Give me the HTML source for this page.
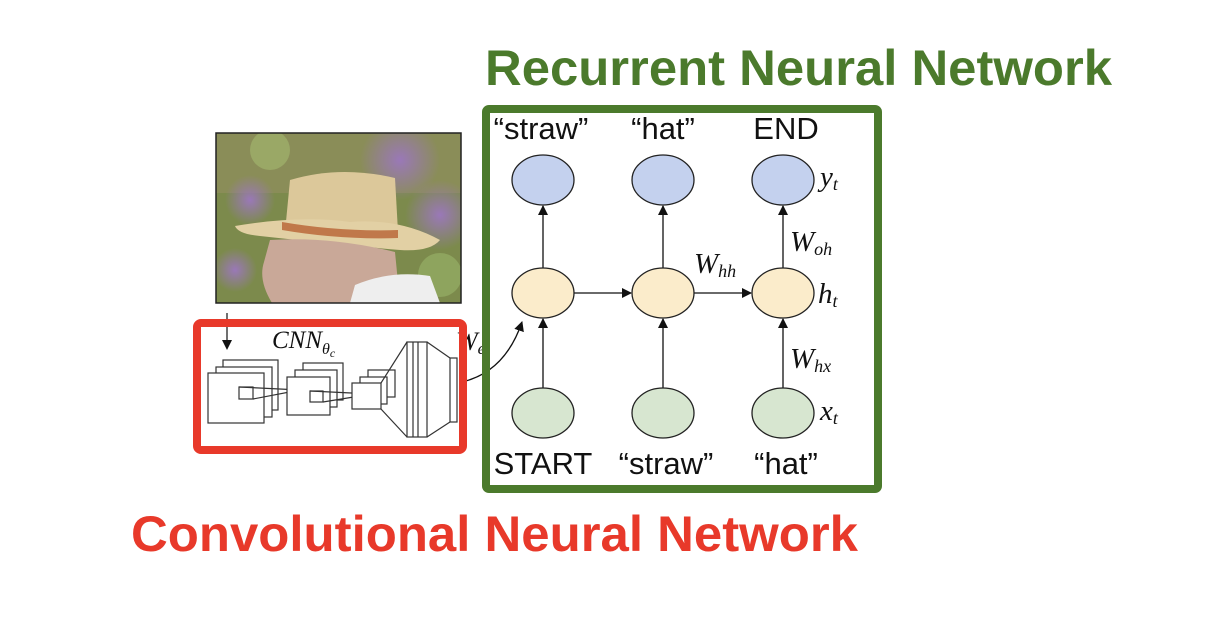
<!DOCTYPE html>
<html><head><meta charset="utf-8"><style>
html,body{margin:0;padding:0;background:#fff;width:1224px;height:617px;overflow:hidden}
svg{display:block}
.t{font-family:"Liberation Sans",Arial,sans-serif}
.m{font-family:"Liberation Serif",serif;font-style:italic}
</style></head><body>
<svg width="1224" height="617" viewBox="0 0 1224 617" xmlns="http://www.w3.org/2000/svg">
<defs>
<marker id="ah" markerWidth="10" markerHeight="10" refX="9" refY="5" orient="auto" markerUnits="userSpaceOnUse"><path d="M0,0 L10,5 L0,10 z" fill="#111"/></marker>
<clipPath id="pc"><rect x="216" y="133" width="245" height="170"/></clipPath>
<radialGradient id="hz" cx="0.5" cy="0.5" r="0.5"><stop offset="0" stop-color="#9a78b8"/><stop offset="1" stop-color="#9a78b8" stop-opacity="0"/></radialGradient>
</defs>
<text class="t" x="485" y="85" font-size="50" font-weight="bold" fill="#4b7a2c" textLength="627" lengthAdjust="spacingAndGlyphs">Recurrent Neural Network</text>
<text class="t" x="131" y="551" font-size="50" font-weight="bold" fill="#e8392a" textLength="727" lengthAdjust="spacingAndGlyphs">Convolutional Neural Network</text>

<!-- photo -->
<g clip-path="url(#pc)">
<rect x="216" y="133" width="245" height="170" fill="#7c8a4c"/>
<rect x="216" y="133" width="245" height="60" fill="#8a8d58"/>
<circle cx="400" cy="160" r="40" fill="url(#hz)"/>
<circle cx="440" cy="215" r="35" fill="url(#hz)"/>
<circle cx="250" cy="200" r="25" fill="url(#hz)"/>
<circle cx="235" cy="270" r="22" fill="url(#hz)"/>
<circle cx="440" cy="275" r="22" fill="#8ea45e"/>
<circle cx="270" cy="150" r="20" fill="#9aa866"/>
<path d="M285,232 L290,180 Q340,165 395,178 L398,232 Z" fill="#dcc89a"/>
<path d="M235,226 Q300,215 350,222 Q400,218 440,240 Q430,252 400,250 Q330,244 260,236 Q238,234 235,226 Z" fill="#e2d0a4"/>
<path d="M282,222 Q340,232 398,230 L398,238 Q340,240 282,230 Z" fill="#c0784a"/>
<path d="M270,240 Q330,236 395,252 L400,303 L272,303 Q258,280 264,262 Z" fill="#c9a898"/>
<path d="M355,285 Q390,270 430,276 L440,303 L350,303 Z" fill="#eeeeee"/>
</g>
<rect x="216" y="133" width="245" height="170" fill="none" stroke="#222" stroke-width="1.5"/>

<!-- CNN drawing -->
<g fill="#fff" stroke="#333" stroke-width="1.2">
<line x1="227" y1="313" x2="227" y2="342" stroke="#111"/>
<path d="M222,340 L232,340 L227,350 Z" fill="#111" stroke="none"/>
<rect x="223" y="360" width="55" height="50"/>
<rect x="216" y="367" width="56" height="50"/>
<rect x="208" y="373" width="56" height="50"/>
<rect x="239" y="387" width="14" height="12"/>
<line x1="239" y1="387" x2="300" y2="390"/><line x1="253" y1="399" x2="300" y2="390"/>
<rect x="303" y="363" width="40" height="37"/>
<rect x="295" y="370" width="42" height="37"/>
<rect x="287" y="377" width="43" height="38"/>
<rect x="310" y="391" width="13" height="11"/>
<line x1="310" y1="391" x2="372" y2="394"/><line x1="323" y1="402" x2="372" y2="394"/>
<rect x="368" y="370" width="27" height="27"/>
<rect x="360" y="377" width="27" height="27"/>
<rect x="352" y="383" width="29" height="26"/>
<line x1="381" y1="383" x2="407" y2="342"/><line x1="381" y1="409" x2="407" y2="437"/>
<rect x="407" y="342" width="20" height="95"/>
<line x1="413" y1="342" x2="413" y2="437"/><line x1="418" y1="342" x2="418" y2="437"/>
<line x1="427" y1="342" x2="450" y2="358"/><line x1="427" y1="437" x2="450" y2="422"/>
<rect x="450" y="358" width="7" height="64"/>
</g>
<text class="m" x="272" y="348" font-size="25" fill="#111">CNN<tspan font-size="16" dy="6">θ</tspan><tspan font-size="12" dy="3">c</tspan></text>
<text class="m" x="456" y="350" font-size="26" fill="#111">W<tspan font-size="17" dy="4">ei</tspan></text>
<path d="M462,382 Q505,372 522,322" fill="none" stroke="#111" stroke-width="1.3" marker-end="url(#ah)"/>

<!-- red box -->
<rect x="197" y="323" width="266" height="127" rx="4" fill="none" stroke="#e8392a" stroke-width="8"/>

<!-- RNN -->
<g stroke="#111" stroke-width="1.3" marker-end="url(#ah)">
<line x1="543" y1="388" x2="543" y2="319"/>
<line x1="663" y1="388" x2="663" y2="319"/>
<line x1="783" y1="388" x2="783" y2="319"/>
<line x1="543" y1="268" x2="543" y2="206"/>
<line x1="663" y1="268" x2="663" y2="206"/>
<line x1="783" y1="268" x2="783" y2="206"/>
<line x1="574" y1="293" x2="631" y2="293"/>
<line x1="694" y1="293" x2="751" y2="293"/>
</g>
<g stroke="#222" stroke-width="1.3">
<ellipse cx="543" cy="180" rx="31" ry="25" fill="#c4d1ee"/>
<ellipse cx="663" cy="180" rx="31" ry="25" fill="#c4d1ee"/>
<ellipse cx="783" cy="180" rx="31" ry="25" fill="#c4d1ee"/>
<ellipse cx="543" cy="293" rx="31" ry="25" fill="#fbeccb"/>
<ellipse cx="663" cy="293" rx="31" ry="25" fill="#fbeccb"/>
<ellipse cx="783" cy="293" rx="31" ry="25" fill="#fbeccb"/>
<ellipse cx="543" cy="413" rx="31" ry="25" fill="#d7e6d0"/>
<ellipse cx="663" cy="413" rx="31" ry="25" fill="#d7e6d0"/>
<ellipse cx="783" cy="413" rx="31" ry="25" fill="#d7e6d0"/>
</g>
<g class="t" font-size="31" fill="#111" text-anchor="middle">
<text x="541" y="139">“straw”</text>
<text x="663" y="139">“hat”</text>
<text x="786" y="139">END</text>
<text x="543" y="474">START</text>
<text x="666" y="474">“straw”</text>
<text x="786" y="474">“hat”</text>
</g>
<g class="m" font-size="29" fill="#111">
<text x="820" y="186">y<tspan font-size="18" dy="4">t</tspan></text>
<text x="790" y="251">W<tspan font-size="18" dy="4">oh</tspan></text>
<text x="694" y="273">W<tspan font-size="18" dy="4">hh</tspan></text>
<text x="818" y="303">h<tspan font-size="18" dy="4">t</tspan></text>
<text x="790" y="368">W<tspan font-size="18" dy="4">hx</tspan></text>
<text x="820" y="420">x<tspan font-size="18" dy="4">t</tspan></text>
</g>
<rect x="486" y="109" width="392" height="380" rx="3" fill="none" stroke="#4b7a2c" stroke-width="8"/>
</svg>
</body></html>
